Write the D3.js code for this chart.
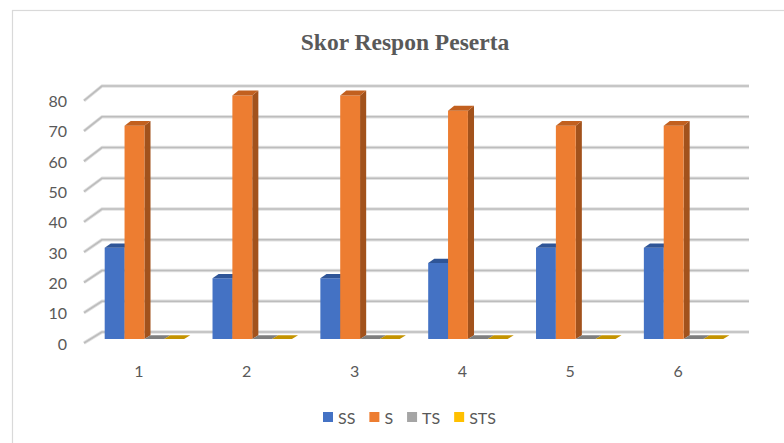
<!DOCTYPE html>
<html>
<head>
<meta charset="utf-8">
<script src="https://cdn.jsdelivr.net/npm/d3@7"></script>
<style>
  html, body { margin: 0; padding: 0; background: #fff; }
  svg { display: block; }
</style>
</head>
<body>
<svg id="chart" width="784" height="443"></svg>
<script>
// ---- data ----
const categories = ["1", "2", "3", "4", "5", "6"];
const seriesNames = ["SS", "S", "TS", "STS"];
const SS  = [30, 20, 20, 25, 30, 30];
const S   = [70, 80, 80, 75, 70, 70];
const TS  = [0, 0, 0, 0, 0, 0];
const STS = [0, 0, 0, 0, 0, 0];
const yTicks = [0, 10, 20, 30, 40, 50, 60, 70, 80];
const title = "Skor Respon Peserta";

const seriesValues = [SS, S, TS, STS];
const colors = {
  SS:  { front: "#4472C4", top: "#2F5597", side: "#2E518F" },
  S:   { front: "#ED7D31", top: "#C2601F", side: "#A2521C" },
  TS:  { front: "#A5A5A5", top: "#7F7F7F", side: "#6E6E6E" },
  STS: { front: "#FFC000", top: "#C49300", side: "#A67C00" }
};

const svg = d3.select("#chart");
const textColor = "#595959";

// chart border
svg.append("rect")
  .attr("x", 12.5).attr("y", 10.5)
  .attr("width", 800).attr("height", 460)
  .attr("fill", "#fff").attr("stroke", "#d9d9d9").attr("stroke-width", 1.2);

// ---- 3D projection ----
const plotLeft = 84, plotWidth = 647, DX = 18;
const yFront = d3.scaleLinear().domain([0, 80]).range([343, 100.7]);
const yBack  = d3.scaleLinear().domain([0, 80]).range([332, 86]);
function proj(x, v, f) {
  const yf = yFront(v), yb = yBack(v);
  return [x + DX * f, yf + (yb - yf) * f];
}
const x0 = d3.scaleBand().domain(categories).range([plotLeft, plotLeft + plotWidth]);
const x1 = d3.scaleBand().domain(seriesNames).range([0, x0.bandwidth()])
  .paddingInner(0).paddingOuter(0.716);
const f0 = 0.36, f1 = 0.70;

// gridlines (back wall + side wall)
const grid = svg.append("g");
yTicks.forEach(t => {
  const a = proj(plotLeft, t, 0), b = proj(plotLeft, t, 1), c = proj(plotLeft + plotWidth, t, 1);
  grid.append("path")
    .attr("d", `M${a[0]},${a[1]}L${b[0]},${b[1]}L${c[0]},${c[1]}`)
    .attr("fill", "none").attr("stroke", "#e2e2e2").attr("stroke-width", 3.4)
    .attr("stroke-linejoin", "round");
  grid.append("path")
    .attr("d", `M${a[0]},${a[1]}L${b[0]},${b[1]}L${c[0]},${c[1]}`)
    .attr("fill", "none").attr("stroke", "#bdbdbd").attr("stroke-width", 1.7)
    .attr("stroke-linejoin", "round");
});

// y labels
svg.append("g").selectAll("text").data(yTicks).join("text")
  .attr("x", 67).attr("y", d => yFront(d))
  .attr("text-anchor", "end").attr("dominant-baseline", "central")
  .attr("font-family", "Lato, 'Open Sans', sans-serif").attr("font-size", 16)
  .attr("fill", textColor).text(d => d);

// x labels
svg.append("g").selectAll("text").data(categories).join("text")
  .attr("x", d => x0(d) + x0.bandwidth() / 2 + 1).attr("y", 370)
  .attr("text-anchor", "middle").attr("dominant-baseline", "central")
  .attr("font-family", "Lato, 'Open Sans', sans-serif").attr("font-size", 16)
  .attr("fill", textColor).text(d => d);

// bars
const poly = pts => "M" + pts.map(p => p.join(",")).join("L") + "Z";
const barsG = svg.append("g");
categories.forEach((cat, ci) => {
  seriesNames.forEach((sn, si) => {
    const v = seriesValues[si][ci];
    const xl = x0(cat) + x1(sn), xr = xl + x1.bandwidth();
    const col = colors[sn];
    const g = barsG.append("g");
    g.append("path").attr("d", poly([proj(xr, 0, f0), proj(xr, v, f0), proj(xr, v, f1), proj(xr, 0, f1)]))
      .attr("fill", col.side);
    g.append("path").attr("d", poly([proj(xl, 0, f0), proj(xr, 0, f0), proj(xr, v, f0), proj(xl, v, f0)]))
      .attr("fill", col.front);
    g.append("path").attr("d", poly([proj(xl, v, f0), proj(xr, v, f0), proj(xr, v, f1), proj(xl, v, f1)]))
      .attr("fill", col.top);
  });
});

// title
svg.append("text")
  .attr("x", 405).attr("y", 50)
  .attr("text-anchor", "middle")
  .attr("font-family", "'Liberation Serif', 'Times New Roman', serif")
  .attr("font-weight", "bold").attr("font-size", 23.5)
  .attr("fill", textColor).text(title);

// legend
const legend = svg.append("g");
let lx = 323;
seriesNames.forEach(sn => {
  legend.append("rect").attr("x", lx).attr("y", 412).attr("width", 10).attr("height", 10)
    .attr("fill", colors[sn].front);
  const t = legend.append("text").attr("x", lx + 15).attr("y", 417)
    .attr("dominant-baseline", "central")
    .attr("font-family", "Lato, 'Open Sans', sans-serif").attr("font-size", 16)
    .attr("fill", textColor).text(sn);
  lx += 15 + t.node().getComputedTextLength() + 14;
});
</script>
</body>
</html>
